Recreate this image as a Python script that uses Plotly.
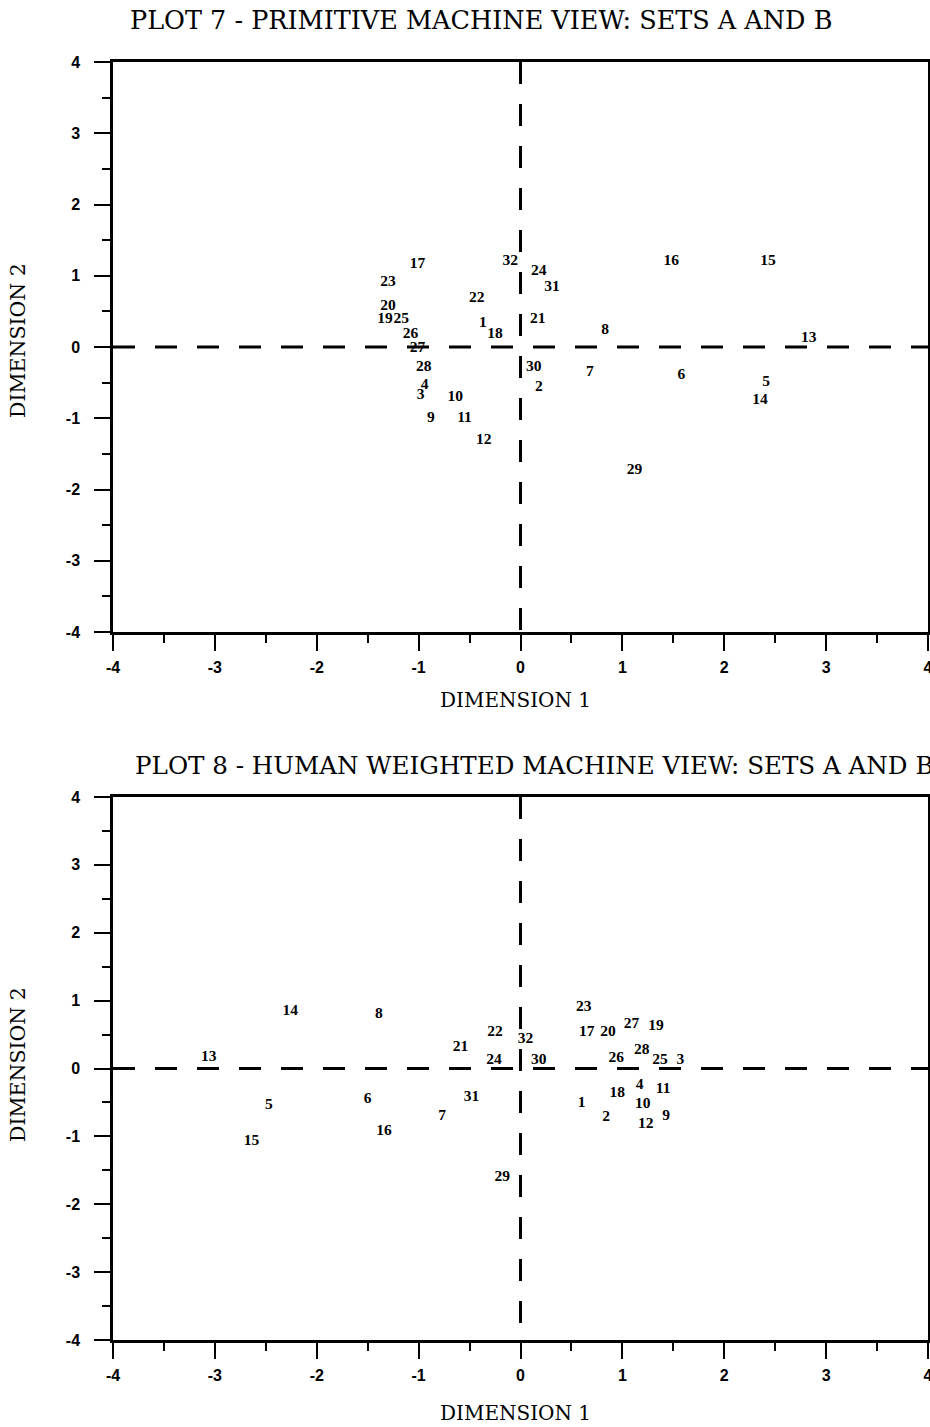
import plotly.graph_objects as go

# ---------------- data ----------------
labels = [str(i) for i in range(1, 33)]

# Plot 7 - primitive machine view (Dimension 1, Dimension 2)
p7_dim1 = [-0.37, 0.18, -0.98, -0.94, 2.41, 1.58, 0.68, 0.83, -0.88, -0.64,
           -0.55, -0.36, 2.83, 2.35, 2.43, 1.48, -1.01, -0.25, -1.33, -1.30,
           0.17, -0.43, -1.30, 0.18, -1.17, -1.08, -1.01, -0.95, 1.12, 0.13,
           0.31, -0.10]
p7_dim2 = [0.33, -0.56, -0.68, -0.54, -0.49, -0.39, -0.35, 0.24, -1.00, -0.71,
           -1.00, -1.30, 0.13, -0.75, 1.21, 1.21, 1.17, 0.18, 0.39, 0.57,
           0.39, 0.69, 0.91, 1.07, 0.39, 0.18, -0.01, -0.28, -1.73, -0.28,
           0.84, 1.21]

# Plot 8 - human weighted machine view
p8_dim1 = [0.60, 0.84, 1.57, 1.17, -2.47, -1.50, -0.77, -1.39, 1.43, 1.20,
           1.40, 1.23, -3.06, -2.26, -2.64, -1.34, 0.65, 0.95, 1.33, 0.86,
           -0.59, -0.25, 0.62, -0.26, 1.37, 0.94, 1.09, 1.19, -0.18, 0.18,
           -0.48, 0.05]
p8_dim2 = [-0.51, -0.72, 0.12, -0.25, -0.54, -0.45, -0.70, 0.80, -0.70, -0.52,
           -0.31, -0.82, 0.17, 0.84, -1.07, -0.92, 0.53, -0.37, 0.62, 0.53,
           0.32, 0.54, 0.91, 0.13, 0.12, 0.16, 0.65, 0.27, -1.60, 0.13,
           -0.42, 0.43]

tick_vals = [-4, -3, -2, -1, 0, 1, 2, 3, 4]
tick_text = ["-4", "-3", "-2", "-1", "0", "1", "2", "3", "4"]

title7 = "PLOT 7 - PRIMITIVE MACHINE VIEW: SETS A AND B"
title8 = "PLOT 8 - HUMAN WEIGHTED MACHINE VIEW: SETS A AND B"
xtitle = "DIMENSION 1"
ytitle = "DIMENSION 2"

# ---------------- layout helpers ----------------
W, H = 930, 1427
ML, MR = 113, 2
PW = W - ML - MR


def ypap(py):
    return (H - py) / H


def xpap(px):
    return (px - ML) / PW


SERIF = "DejaVu Serif"
LABEL_FONT = dict(family="Liberation Serif", size=15.5, color="black", weight="bold")
TICK_FONT = dict(family="Liberation Sans", size=16, color="black", weight="bold")

fig = go.Figure()

fig.add_trace(go.Scatter(x=p7_dim1, y=p7_dim2, text=labels, mode="text",
                         textposition="middle center", textfont=LABEL_FONT,
                         xaxis="x", yaxis="y", hoverinfo="skip", showlegend=False))
fig.add_trace(go.Scatter(x=p8_dim1, y=p8_dim2, text=labels, mode="text",
                         textposition="middle center", textfont=LABEL_FONT,
                         xaxis="x2", yaxis="y2", hoverinfo="skip", showlegend=False))


def axis_common(standoff):
    return dict(
        range=[-4, 4], tickvals=tick_vals, ticktext=tick_text,
        ticks="outside", ticklen=16, tickwidth=2, tickcolor="black",
        tickfont=TICK_FONT, ticklabelstandoff=standoff,
        ticklabeloverflow="allow",
        showline=True, linewidth=2.5, linecolor="black", mirror=True,
        showgrid=False, zeroline=False, automargin=False, fixedrange=True,
        minor=dict(dtick=0.5, tick0=0, ticks="outside", ticklen=8,
                   tickwidth=2, tickcolor="black", showgrid=False),
    )


fig.update_layout(
    width=W, height=H,
    margin=dict(l=ML, r=MR, t=0, b=0, autoexpand=False),
    paper_bgcolor="white", plot_bgcolor="white",
    xaxis=dict(domain=[0, 1], anchor="y", **axis_common(3)),
    yaxis=dict(domain=[ypap(632), ypap(62)], anchor="x", **axis_common(11)),
    xaxis2=dict(domain=[0, 1], anchor="y2", **axis_common(3)),
    yaxis2=dict(domain=[ypap(1340), ypap(797)], anchor="x2", **axis_common(11)),
)

# dashed reference lines through the origin
dash = "22px,20px"
for xr, yr in (("x", "y"), ("x2", "y2")):
    fig.add_shape(type="line", xref=xr, yref=yr, x0=-4, x1=4, y0=0, y1=0,
                  line=dict(color="black", width=3, dash=dash))
    fig.add_shape(type="line", xref=xr, yref=yr, x0=0, x1=0, y0=4, y1=-4,
                  line=dict(color="black", width=3, dash=dash))

# titles and axis titles
anns = [
    dict(text=title7, x=xpap(128), y=ypap(20), xanchor="left", yanchor="middle",
         font=dict(family=SERIF, size=25.5, color="black")),
    dict(text=title8, x=xpap(133), y=ypap(765), xanchor="left", yanchor="middle",
         font=dict(family=SERIF, size=24.6, color="black")),
    dict(text=xtitle, x=xpap(515), y=ypap(700), xanchor="center", yanchor="middle",
         font=dict(family=SERIF, size=20, color="black")),
    dict(text=xtitle, x=xpap(515), y=ypap(1413), xanchor="center", yanchor="middle",
         font=dict(family=SERIF, size=20, color="black")),
    dict(text=ytitle, x=xpap(18), y=ypap(341), xanchor="center", yanchor="middle",
         textangle=-90, font=dict(family=SERIF, size=20.5, color="black")),
    dict(text=ytitle, x=xpap(18), y=ypap(1065), xanchor="center", yanchor="middle",
         textangle=-90, font=dict(family=SERIF, size=20.5, color="black")),
]
for a in anns:
    fig.add_annotation(xref="paper", yref="paper", showarrow=False, **a)

fig.write_html(
    "out.html",
    config={"displayModeBar": False},
    post_script="document.body.style.margin='0';document.body.style.overflow='hidden';",
)
